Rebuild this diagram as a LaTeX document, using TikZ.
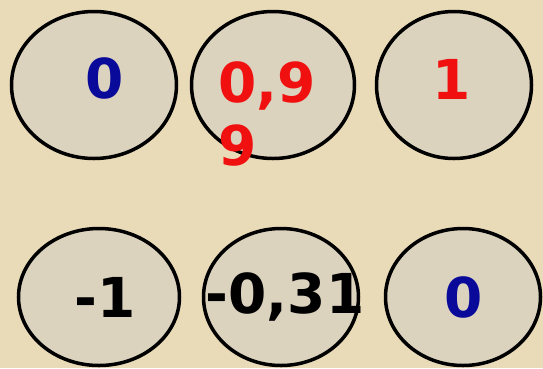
\documentclass[tikz,border=0pt]{standalone}
\usepackage{fontspec}
\setmainfont{DejaVu Sans}
\usetikzlibrary{shapes.geometric}
\definecolor{parch}{HTML}{E9DBB8}
\definecolor{cellfill}{HTML}{DCD3BF}
\definecolor{numblue}{HTML}{0A0A9A}
\definecolor{numred}{HTML}{F01010}
\begin{document}
\begin{tikzpicture}[x=1pt, y=-1pt,
    cell/.style={draw=black, line width=3.5pt, fill=cellfill, ellipse, inner sep=0pt},
    num/.style={font=\fontsize{55}{63}\selectfont\bfseries, inner sep=0pt, anchor=base}]
    \fill[parch] (0,0) rectangle (543,368);
    \useasboundingbox (0,0) rectangle (543,368);
    % top row
    \node[cell, minimum width=165pt, minimum height=147pt] (t1) at (94,85) {};
    \node[cell, minimum width=163pt, minimum height=147pt] (t2) at (273,85) {};
    \node[cell, minimum width=155pt, minimum height=147pt] (t3) at (454,85) {};
    % bottom row
    \node[cell, minimum width=161pt, minimum height=137pt] (b1) at (99,297) {};
    \node[cell, minimum width=155pt, minimum height=137pt] (b2) at (281,297) {};
    \node[cell, minimum width=155pt, minimum height=137pt] (b3) at (463,297) {};
    % numbers
    \node[num, text=numblue] (n1) at (105,98) {0};
    \node[num, text=numred, anchor=north west, align=left] (n2) at (218,61) {0,9\\9};
    \node[num, text=numred] (n3) at (452,99) {1};
    \node[num] (n4) at (105,317) {-1};
    \node[num] (n5) at (285,313) {-0,31};
    \node[num, text=numblue] (n6) at (464,317) {0};
\end{tikzpicture}
\end{document}
